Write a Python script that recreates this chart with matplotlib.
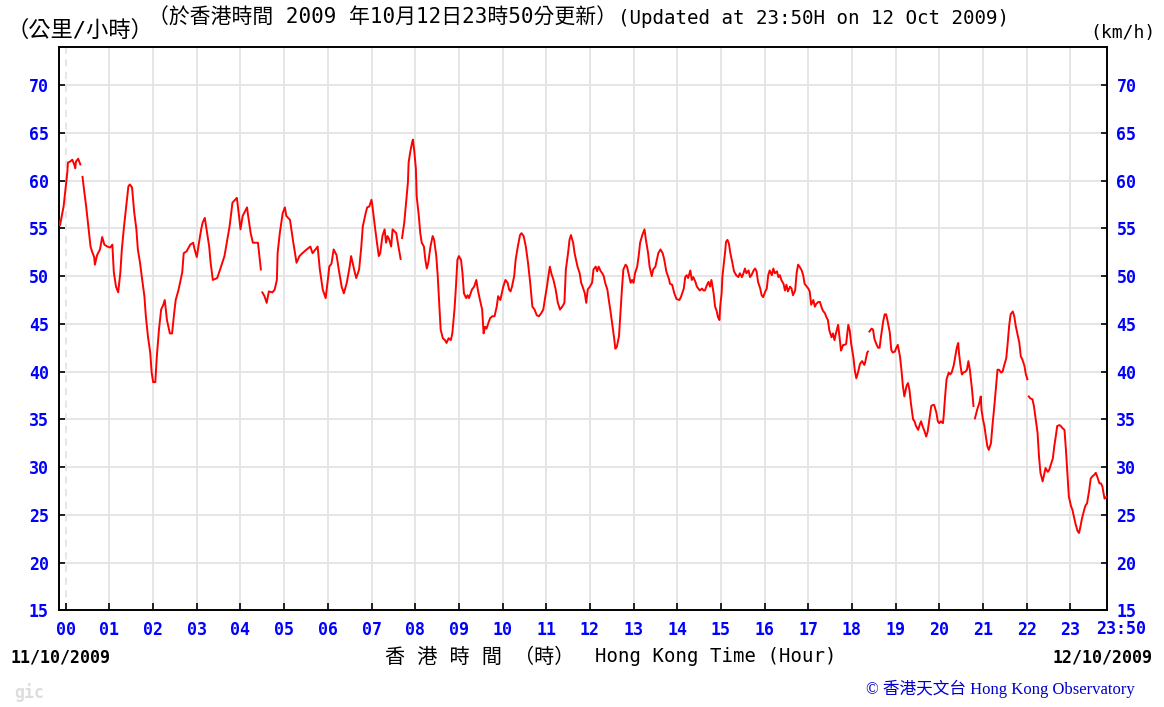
import matplotlib
matplotlib.use("Agg")
import matplotlib.pyplot as plt
import numpy as np

nan = float("nan")

# minutes after 00:00 on 12/10/2009 (window starts 23:50 the day before)
minutes = [
    -10, -8, -3, -1, 2, 3, 6, 9, 12, 13, 14, 17, 20, 21,
    23, 25, 28, 31, 34, 36, 39, 40, 43, 47, 50, 53, 57, 61, 64,
    66, 69, 72, 75, 77, 80, 83, 86, 88, 91, 94, 97, 99, 102, 105, 108, 110, 113, 116, 118, 120, 123, 125,
    128, 131, 134, 136, 139, 143, 146, 149, 151, 155, 160, 162, 166, 171, 175, 177, 180,
    183, 186, 188, 191, 194, 197, 199, 202, 205, 208, 212, 218, 225, 229, 235, 238, 240,
    243, 249, 250, 254, 257, 264, 266, 268, 269,
    270, 273, 276, 279, 284, 287, 290, 291, 294, 298, 301, 303, 308, 312, 317,
    321, 325, 331, 336, 339, 346, 349, 353, 357, 360, 362, 365, 368, 372,
    375, 379, 382, 386, 390, 392, 397, 399, 403, 406, 408, 412, 414, 417, 420,
    421, 424, 427, 430, 432, 435, 438, 440, 442, 444, 447, 449, 454, 457, 460, 461,
    462, 465, 467, 470, 471, 473, 476, 477, 479, 481, 482, 485, 487, 489, 492, 494, 496,
    498, 501, 504, 506, 509, 511, 513, 515, 518, 521, 523, 526, 529, 531, 534, 536, 538, 540,
    543, 545, 547, 550, 552, 554, 558, 561, 564, 566, 569, 572, 574, 576, 578, 581, 583,
    586, 589, 592, 594, 597, 599, 601, 604, 607, 609, 611, 613, 616, 618, 621, 624, 626, 629,
    632, 635, 638, 641, 644, 647, 650, 653, 656, 658, 661, 663, 665, 667, 670, 673, 676,
    679, 682, 685, 687, 690, 692, 694, 697, 699, 701, 703, 706, 708, 710, 713, 715, 717, 720,
    723, 725, 728, 730, 732, 735, 737, 739, 741, 744, 746, 748, 750, 753, 755, 757, 760, 762,
    764, 766, 769, 771, 773, 776, 778, 780, 782, 785, 787, 789, 792, 795, 797, 800, 802, 805, 807,
    810, 814, 817, 820, 822, 825, 829, 830, 833, 836, 839, 843, 845, 849,
    851, 853, 855, 858, 860, 862, 865, 867, 869, 871, 874, 876, 878, 881, 883, 885, 887, 890,
    892, 894, 896, 898, 899, 901, 902, 904, 906, 907, 909, 911, 913, 916, 918, 921, 924, 926, 929,
    931, 933, 935, 938, 940, 942, 945, 947, 949, 951, 954, 956, 958, 961, 963, 965, 967, 970,
    972, 974, 977, 979, 981, 983, 986, 988, 990, 992, 995, 997, 999, 1002, 1004, 1006, 1008, 1011,
    1013, 1015, 1018, 1020, 1022, 1024, 1027, 1029, 1031, 1034, 1036, 1038, 1040, 1043, 1045, 1047, 1049, 1052,
    1054, 1056, 1058, 1061, 1063, 1065, 1068, 1070, 1072, 1075, 1077, 1079, 1082, 1084, 1086, 1088, 1091,
    1094, 1097, 1098, 1101, 1102, 1103, 1104, 1107, 1109, 1111, 1114, 1116, 1118, 1120, 1123, 1125, 1127, 1129, 1132, 1134, 1136,
    1139, 1141, 1143, 1146, 1148, 1150, 1152, 1155, 1157, 1159, 1161, 1164, 1166, 1168, 1171, 1173, 1175, 1177, 1180,
    1182, 1184, 1187, 1189, 1191, 1193, 1196, 1198, 1200, 1202, 1205, 1206, 1208, 1210, 1213, 1215, 1217, 1220, 1222, 1224,
    1226, 1227, 1229, 1231, 1233, 1236, 1238, 1240, 1242, 1245, 1247, 1248, 1249, 1252, 1255, 1257, 1258, 1260, 1262, 1264,
    1266, 1268, 1271, 1273, 1276, 1278, 1280, 1282, 1285, 1287, 1289, 1292, 1294, 1296, 1298, 1301, 1303, 1305,
    1307, 1310, 1312, 1314, 1317, 1319, 1321, 1322, 1323, 1325, 1328, 1330, 1332, 1335, 1337, 1339, 1342, 1344, 1346,
    1349, 1351, 1353, 1356, 1358, 1360, 1362, 1365, 1367, 1369, 1372, 1374, 1376, 1378, 1381, 1383, 1385, 1387,
    1390, 1392, 1394, 1396, 1399, 1401, 1403, 1406, 1408, 1410, 1413, 1415, 1417, 1420, 1422, 1424, 1427, 1430,
]

# wind speed (km/h), nan = no data
speed = [
    55.9, 55.3, 57.3, 58.7, 60.8, 61.9, 62.0, 62.2, 61.6, 61.3, 62.0, 62.3, 61.7, nan,
    60.4, 59.1, 57.3, 55.2, 53.1, 52.6, 52.0, 51.2, 52.2, 52.8, 54.1, 53.3, 53.1, 53.0, 53.3,
    50.4, 48.9, 48.3, 50.4, 52.8, 55.2, 57.3, 59.4, 59.6, 59.3, 56.7, 54.9, 52.8, 51.4, 49.6, 47.9, 45.8, 43.6, 42.0, 39.9, 38.9, 38.9, 41.5,
    44.4, 46.5, 47.0, 47.5, 45.4, 44.0, 44.0, 46.2, 47.5, 48.6, 50.4, 52.4, 52.6, 53.3, 53.5, 52.8, 52.0,
    53.5, 54.9, 55.6, 56.1, 54.6, 53.1, 51.4, 49.6, 49.7, 49.8, 50.7, 52.1, 55.2, 57.7, 58.2, 56.3, 54.9,
    56.3, 57.2, 56.6, 54.5, 53.5, 53.5, 52.1, 50.7, nan,
    48.3, 47.9, 47.2, 48.4, 48.3, 48.6, 49.6, 52.4, 54.5, 56.6, 57.2, 56.3, 55.9, 53.8, 51.4,
    52.1, 52.4, 52.8, 53.1, 52.4, 53.1, 50.7, 48.6, 47.7, 49.6, 51.0, 51.3, 52.8, 52.2,
    50.7, 48.9, 48.2, 49.3, 51.0, 52.1, 50.4, 49.8, 50.7, 53.1, 55.2, 56.6, 57.2, 57.3, 58.0,
    57.5, 55.6, 53.8, 52.1, 52.4, 54.2, 54.9, 53.5, 54.2, 53.9, 53.1, 54.9, 54.5, 53.1, 51.8, nan,
    54.0, 55.6, 57.3, 59.8, 61.9, 62.9, 64.1, 64.3, 62.9, 61.2, 58.4, 56.3, 54.5, 53.5, 53.1, 51.7, 50.8,
    51.4, 53.1, 54.2, 53.8, 52.1, 50.0, 47.2, 44.4, 43.5, 43.3, 43.0, 43.5, 43.3, 44.0, 46.5, 48.9, 51.7, 52.1,
    51.7, 50.3, 48.2, 47.7, 48.0, 47.7, 48.6, 48.9, 49.6, 48.6, 47.5, 46.5, 44.0, 44.7, 44.5, 45.2, 45.6,
    45.8, 45.8, 46.8, 47.9, 47.5, 48.2, 48.9, 49.6, 49.3, 48.6, 48.4, 48.9, 50.0, 51.7, 53.1, 54.3, 54.5, 54.2,
    53.1, 51.4, 49.3, 46.8, 46.5, 45.9, 45.8, 46.1, 46.5, 47.5, 48.9, 50.0, 51.0, 50.3, 49.6, 48.6, 47.2,
    46.5, 46.8, 47.2, 50.7, 52.4, 53.8, 54.3, 53.5, 52.4, 51.7, 51.0, 50.3, 49.3, 48.9, 48.2, 47.2, 48.6, 48.9,
    49.3, 50.7, 51.0, 50.5, 51.0, 50.5, 50.3, 50.0, 49.3, 48.6, 47.5, 46.5, 45.4, 43.7, 42.4, 42.6, 43.7, 46.1,
    48.6, 50.7, 51.2, 51.0, 50.3, 49.3, 49.6, 49.3, 50.3, 51.0, 52.1, 53.5, 54.3, 54.9, 53.8, 52.4, 51.0, 50.0, 50.7,
    51.0, 52.4, 52.8, 52.4, 51.8, 50.5, 49.6, 49.2, 49.1, 48.2, 47.6, 47.5, 47.8, 48.7,
    49.9, 50.1, 49.8, 50.6, 49.6, 49.9, 49.4, 48.9, 48.7, 48.5, 48.7, 48.5, 48.5, 49.1, 49.4, 48.9, 49.6, 48.2,
    46.8, 46.4, 45.7, 45.4, 46.8, 48.2, 49.9, 51.3, 52.7, 53.6, 53.8, 53.4, 52.4, 51.3, 50.5, 50.1, 49.9, 50.3, 49.9,
    50.3, 50.8, 50.3, 50.6, 49.9, 50.1, 50.6, 50.8, 50.5, 49.4, 48.7, 48.0, 47.8, 48.4, 48.7, 50.1, 50.6, 50.1,
    50.8, 50.3, 50.5, 49.9, 50.1, 49.6, 49.2, 48.5, 49.1, 48.4, 48.9, 48.7, 48.0, 48.5, 50.3, 51.2, 51.0, 50.6,
    50.1, 49.2, 48.9, 48.7, 48.4, 47.0, 47.5, 46.8, 47.1, 47.3, 47.3, 46.8, 46.4, 46.1, 45.7, 45.4, 44.3, 43.6,
    44.0, 43.3, 44.0, 44.9, 43.6, 42.2, 42.8, 42.8, 42.9, 44.9, 44.3, 42.9, 41.5, 40.1, 39.3, 39.8, 40.8,
    41.1, 40.7, 40.9, 42.0, 42.1, nan, 44.2, 44.5, 44.4, 43.4, 42.8, 42.5, 42.5, 43.7, 45.3, 46.0, 46.0, 45.3, 44.1, 42.3, 42.0,
    42.1, 42.5, 42.8, 41.6, 40.2, 38.5, 37.4, 38.5, 38.8, 38.1, 36.7, 35.0, 34.8, 34.3, 33.9, 34.4, 34.8, 34.3, 33.7,
    33.2, 33.7, 35.3, 36.4, 36.5, 36.5, 35.7, 34.8, 34.6, 34.8, 34.6, 35.3, 37.4, 39.2, 39.9, 39.7, 39.9, 40.7, 41.6, 42.5,
    43.0, 42.0, 40.7, 39.7, 39.9, 40.0, 40.2, 41.1, 40.2, 38.1, 36.4, nan, 35.1, 36.0, 36.7, 37.4, 36.0, 35.0, 34.3, 33.2,
    32.2, 31.8, 32.5, 34.3, 36.7, 38.5, 40.2, 40.2, 39.9, 40.0, 40.6, 41.4, 43.0, 44.8, 46.0, 46.3, 45.8, 44.8,
    44.1, 43.0, 41.6, 41.3, 40.6, 39.7, 39.2, nan, 37.4, 37.2, 37.1, 36.4, 35.3, 33.6, 31.1, 29.4, 28.5, 29.2, 29.9,
    29.5, 29.7, 30.2, 30.9, 32.2, 33.2, 34.3, 34.4, 34.3, 34.1, 33.9, 31.8, 29.4, 26.9, 25.9, 25.5, 24.8, 24.1,
    23.3, 23.1, 23.8, 24.6, 25.5, 26.0, 26.2, 27.6, 28.8, 29.0, 29.2, 29.4, 29.0, 28.3, 28.3, 28.0, 26.7, 26.9,
]

hour_labels = ["%02d" % h for h in range(24)]
speed_ticks = list(range(15, 75, 5))

BLUE = "#0000ff"
GRID = "#e4e4e4"

plt.rcParams['font.family'] = ['DejaVu Sans Mono', 'Noto Sans CJK TC']

W, H = 1164, 707
fig = plt.figure(figsize=(W / 100, H / 100), dpi=100)
ax = fig.add_axes([58.5 / W, 1 - 610.3 / H, (1106.7 - 58.5) / W, (610.3 - 47) / H])

ax.plot(minutes, speed, color="#ff0000", lw=1.4, zorder=3)
ax.set_xlim(-10, 1430)
ax.set_ylim(15, 74)

ax.set_xticks([h * 60 for h in range(24)])
ax.set_xticklabels(hour_labels)
ax.set_yticks(speed_ticks)
ax.set_yticklabels([str(v) for v in speed_ticks])

ax.grid(True, color=GRID, lw=1.3, zorder=0)
ax.get_xgridlines()[0].set_linestyle((0, (4, 3)))

ax.tick_params(axis='x', direction='in', length=5, width=1.2, labelcolor=BLUE,
               labelsize=12, pad=8)
ax.tick_params(axis='y', direction='in', length=4, width=1.2, labelcolor=BLUE,
               labelsize=12, pad=7, right=True, labelright=True)
for t in ax.xaxis.get_major_ticks() + ax.yaxis.get_major_ticks():
    t.label1.set_fontweight('bold')
    t.label2.set_fontweight('bold')

for s in ax.spines.values():
    s.set_linewidth(1.4)
    s.set_color("black")

# header texts
fig.text(6 / W, 1 - 30 / H, "（公里/小時）", fontsize=16, va='center', ha='left')
fig.text(148 / W, 1 - 18 / H, "（於香港時間 2009 年10月12日23時50分更新）",
         fontsize=15, va='center', ha='left')
fig.text(618 / W, 1 - 18 / H, "(Updated at 23:50H on 12 Oct 2009)",
         fontsize=13.8, va='center', ha='left')
fig.text(1156 / W, 1 - 33 / H, "(km/h)", fontsize=13, va='center', ha='right')

# bottom texts
fig.text(1121 / W, 1 - 629 / H, "23:50", fontsize=12, color=BLUE, weight='bold',
         va='center', ha='center')
fig.text(10 / W, 1 - 657.5 / H, "11/10/2009", fontsize=12, weight='bold', va='center', ha='left')
fig.text(1152 / W, 1 - 657.5 / H, "12/10/2009", fontsize=12, weight='bold', va='center', ha='right')
fig.text(385 / W, 1 - 657 / H, "香 港 時 間 （時）", fontsize=14.5, va='center', ha='left')
fig.text(595 / W, 1 - 657 / H, "Hong Kong Time (Hour)", fontsize=13.7, va='center', ha='left')
fig.text(1135 / W, 1 - 689 / H, "© 香港天文台 Hong Kong Observatory", fontsize=12,
         color="#0000cc", va='center', ha='right',
         family=['Liberation Serif', 'Noto Sans CJK TC'])
fig.text(14 / W, 1 - 693 / H, "gic", fontsize=12, weight='bold', color="#dddddd",
         va='center', ha='left')

fig.savefig("out.png", dpi=100)
